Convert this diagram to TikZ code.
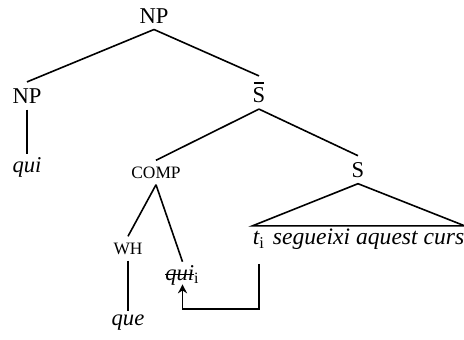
\documentclass[tikz,border=0pt]{standalone}
\usepackage{fontspec}
\setmainfont{Liberation Serif}
\usepackage{tikz}
\usetikzlibrary{arrows.meta, positioning}
\newcommand{\struck}[1]{\sbox0{#1}\rlap{\usebox0}\rule[0.45ex]{\wd0}{0.8pt}}
\newcommand{\barred}[1]{\shortstack{\rule{0.45em}{0.6pt}\\[-1pt]#1}}
\tikzstyle{cat} = [inner sep=3pt, font=\fontsize{11.3}{13}\selectfont]
\tikzstyle{smallcat} = [inner sep=3pt, font=\fontsize{8.7}{10}\selectfont]
\tikzstyle{word} = [inner xsep=3pt, inner ysep=1.5pt, font=\fontsize{11.3}{13}\selectfont\itshape]
\tikzstyle{words} = [inner xsep=0pt, inner ysep=1.5pt, font=\fontsize{11.8}{13}\selectfont\itshape]
\tikzstyle{branch} = [line width=0.8pt]
\tikzstyle{arrow} = [line width=0.8pt,-{Stealth[length=4.5pt, width=4.5pt]}]

\begin{document}
\begin{tikzpicture}[x=0.5pt, y=-0.5pt, node distance=40pt]
    \useasboundingbox (0,0) rectangle (464,339);

        % Nodes
        \node (top) [cat] at (154,15.7) {NP};
        \node (np) [cat, below of=top, xshift=-63.5pt] {NP};
        \node (qui) [word, below of=np, yshift=4pt] {qui};
        \node (sbar) [cat, below of=top, xshift=52.5pt, yshift=1.6pt] {\barred{S}};
        \node (comp) [smallcat, below of=sbar, xshift=-51.5pt] {COMP};
        \node (s) [cat, below of=sbar, xshift=49.5pt, yshift=1.4pt] {S};
        \node (wh) [smallcat, below of=comp, xshift=-14pt, yshift=2pt] {WH};
        \node (que) [word, below of=wh, yshift=3pt] {que};
        \node (trace) [word, below of=comp, xshift=13.25pt, yshift=-11.25pt] {\struck{qui}\textsubscript{\upshape i}};
        \node (ti) [words, below of=s, xshift=-49.5pt, yshift=4.85pt] {t\textsubscript{\upshape i}};
        \node (rest) [words, anchor=base west, xshift=3.5pt] at (ti.base east) {segueixi aquest curs};

        % Branches
        \draw [branch] (top.south) -- (np.north);
        \draw [branch] (top.south) -- (sbar.north);
        \draw [branch] (np.south) -- (qui.north);
        \draw [branch] (sbar.south) -- (comp.north);
        \draw [branch] (sbar.south) -- (s.north);
        \draw [branch] (comp.south) -- (wh.north);
        \draw [branch] (comp.south) -- (trace.north);
        \draw [branch] (wh.south) -- (que.north);
        \draw [branch] (s.south) -- (rest.north -| ti.west) -- (rest.north east) -- cycle;

        % Movement
        \draw [arrow, shorten <=6pt, shorten >=-2pt] (ti.south) -- ++(0,57) -| (trace.south);

    \end{tikzpicture}
\end{document}
